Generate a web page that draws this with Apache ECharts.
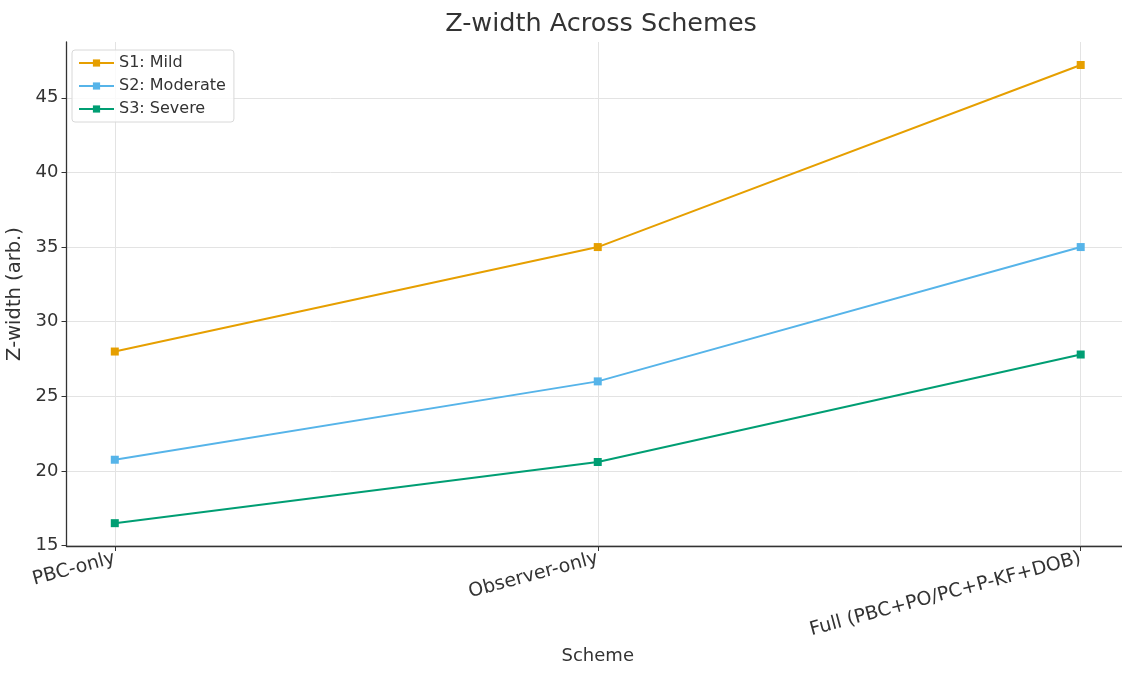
<!DOCTYPE html>
<html>
<head>
<meta charset="utf-8">
<script src="https://cdn.jsdelivr.net/npm/echarts@6/dist/echarts.min.js"></script>
<style>html,body{margin:0;padding:0;background:#fff}#c{width:1122px;height:673px}</style>
</head>
<body>
<div id="c"></div>
<script>
const categories = ['PBC-only', 'Observer-only', 'Full (PBC+PO/PC+P-KF+DOB)'];
const s1Mild = [28.0, 35.0, 47.2];
const s2Moderate = [20.75, 26.0, 35.0];
const s3Severe = [16.5, 20.6, 27.8];
const yTicks = [15, 20, 25, 30, 35, 40, 45];
const seriesNames = ['S1: Mild', 'S2: Moderate', 'S3: Severe'];
const colors = ['#E69F00', '#56B4E9', '#009E73'];

const font = 'DejaVu Sans';
const chart = echarts.init(document.getElementById('c'));
const xIdx = categories.map((_, i) => i);
function mk(name, vals, color) {
  return {
    name, type: 'line', data: vals.map((v, i) => [i, v]),
    symbol: 'rect', symbolSize: 8, color,
    lineStyle: { width: 2, color }, itemStyle: { color },
    emphasis: { disabled: true }
  };
}
chart.setOption({
  animation: false,
  textStyle: { fontFamily: font },
  title: {
    text: 'Z-width Across Schemes', left: 596, textAlign: 'center', top: 6,
    textStyle: { fontFamily: font, fontSize: 25.5, fontWeight: 'normal', color: '#333' }
  },
  legend: {
    orient: 'vertical', left: 72, top: 50,
    itemWidth: 35, itemHeight: 9, itemGap: 7,
    padding: [5, 8, 5, 6],
    borderColor: '#d8d8d8', borderWidth: 1, borderRadius: 3,
    backgroundColor: 'rgba(255,255,255,0.8)',
    textStyle: { fontFamily: font, fontSize: 16, color: '#333' },
    data: seriesNames
  },
  grid: { left: 66.5, right: -7, top: 42, bottom: 127, containLabel: false, outerBoundsMode: 'none' },
  xAxis: {
    type: 'value', min: -0.1, max: 2.1,
    name: 'Scheme', nameLocation: 'middle', nameGap: 101,
    nameTextStyle: { fontFamily: font, fontSize: 18, color: '#333' },
    axisLine: { onZero: false, lineStyle: { color: '#333', width: 1.3 } },
    axisTick: { show: true, customValues: xIdx, length: 5, lineStyle: { color: '#333' } },
    axisLabel: {
      customValues: xIdx, rotate: 15, margin: 12,
      fontFamily: font, fontSize: 19, color: '#333',
      formatter: v => categories[Math.round(v)]
    },
    splitLine: { show: true, lineStyle: { color: '#e3e3e3', width: 1 } }
  },
  yAxis: {
    type: 'value', min: 14.97, max: 48.74,
    name: 'Z-width (arb.)', nameLocation: 'middle', nameGap: 37, nameRotate: 90,
    nameTextStyle: { fontFamily: font, fontSize: 19.5, color: '#333' },
    axisLine: { show: true, onZero: false, lineStyle: { color: '#333', width: 1.3 } },
    axisTick: { show: true, customValues: yTicks, length: 5, lineStyle: { color: '#333' } },
    axisLabel: { customValues: yTicks, margin: 8, fontFamily: font, fontSize: 18, color: '#333' },
    splitLine: { show: true, lineStyle: { color: '#e3e3e3', width: 1 } }
  },
  series: [
    mk(seriesNames[0], s1Mild, colors[0]),
    mk(seriesNames[1], s2Moderate, colors[1]),
    mk(seriesNames[2], s3Severe, colors[2])
  ]
});
</script>
</body>
</html>
